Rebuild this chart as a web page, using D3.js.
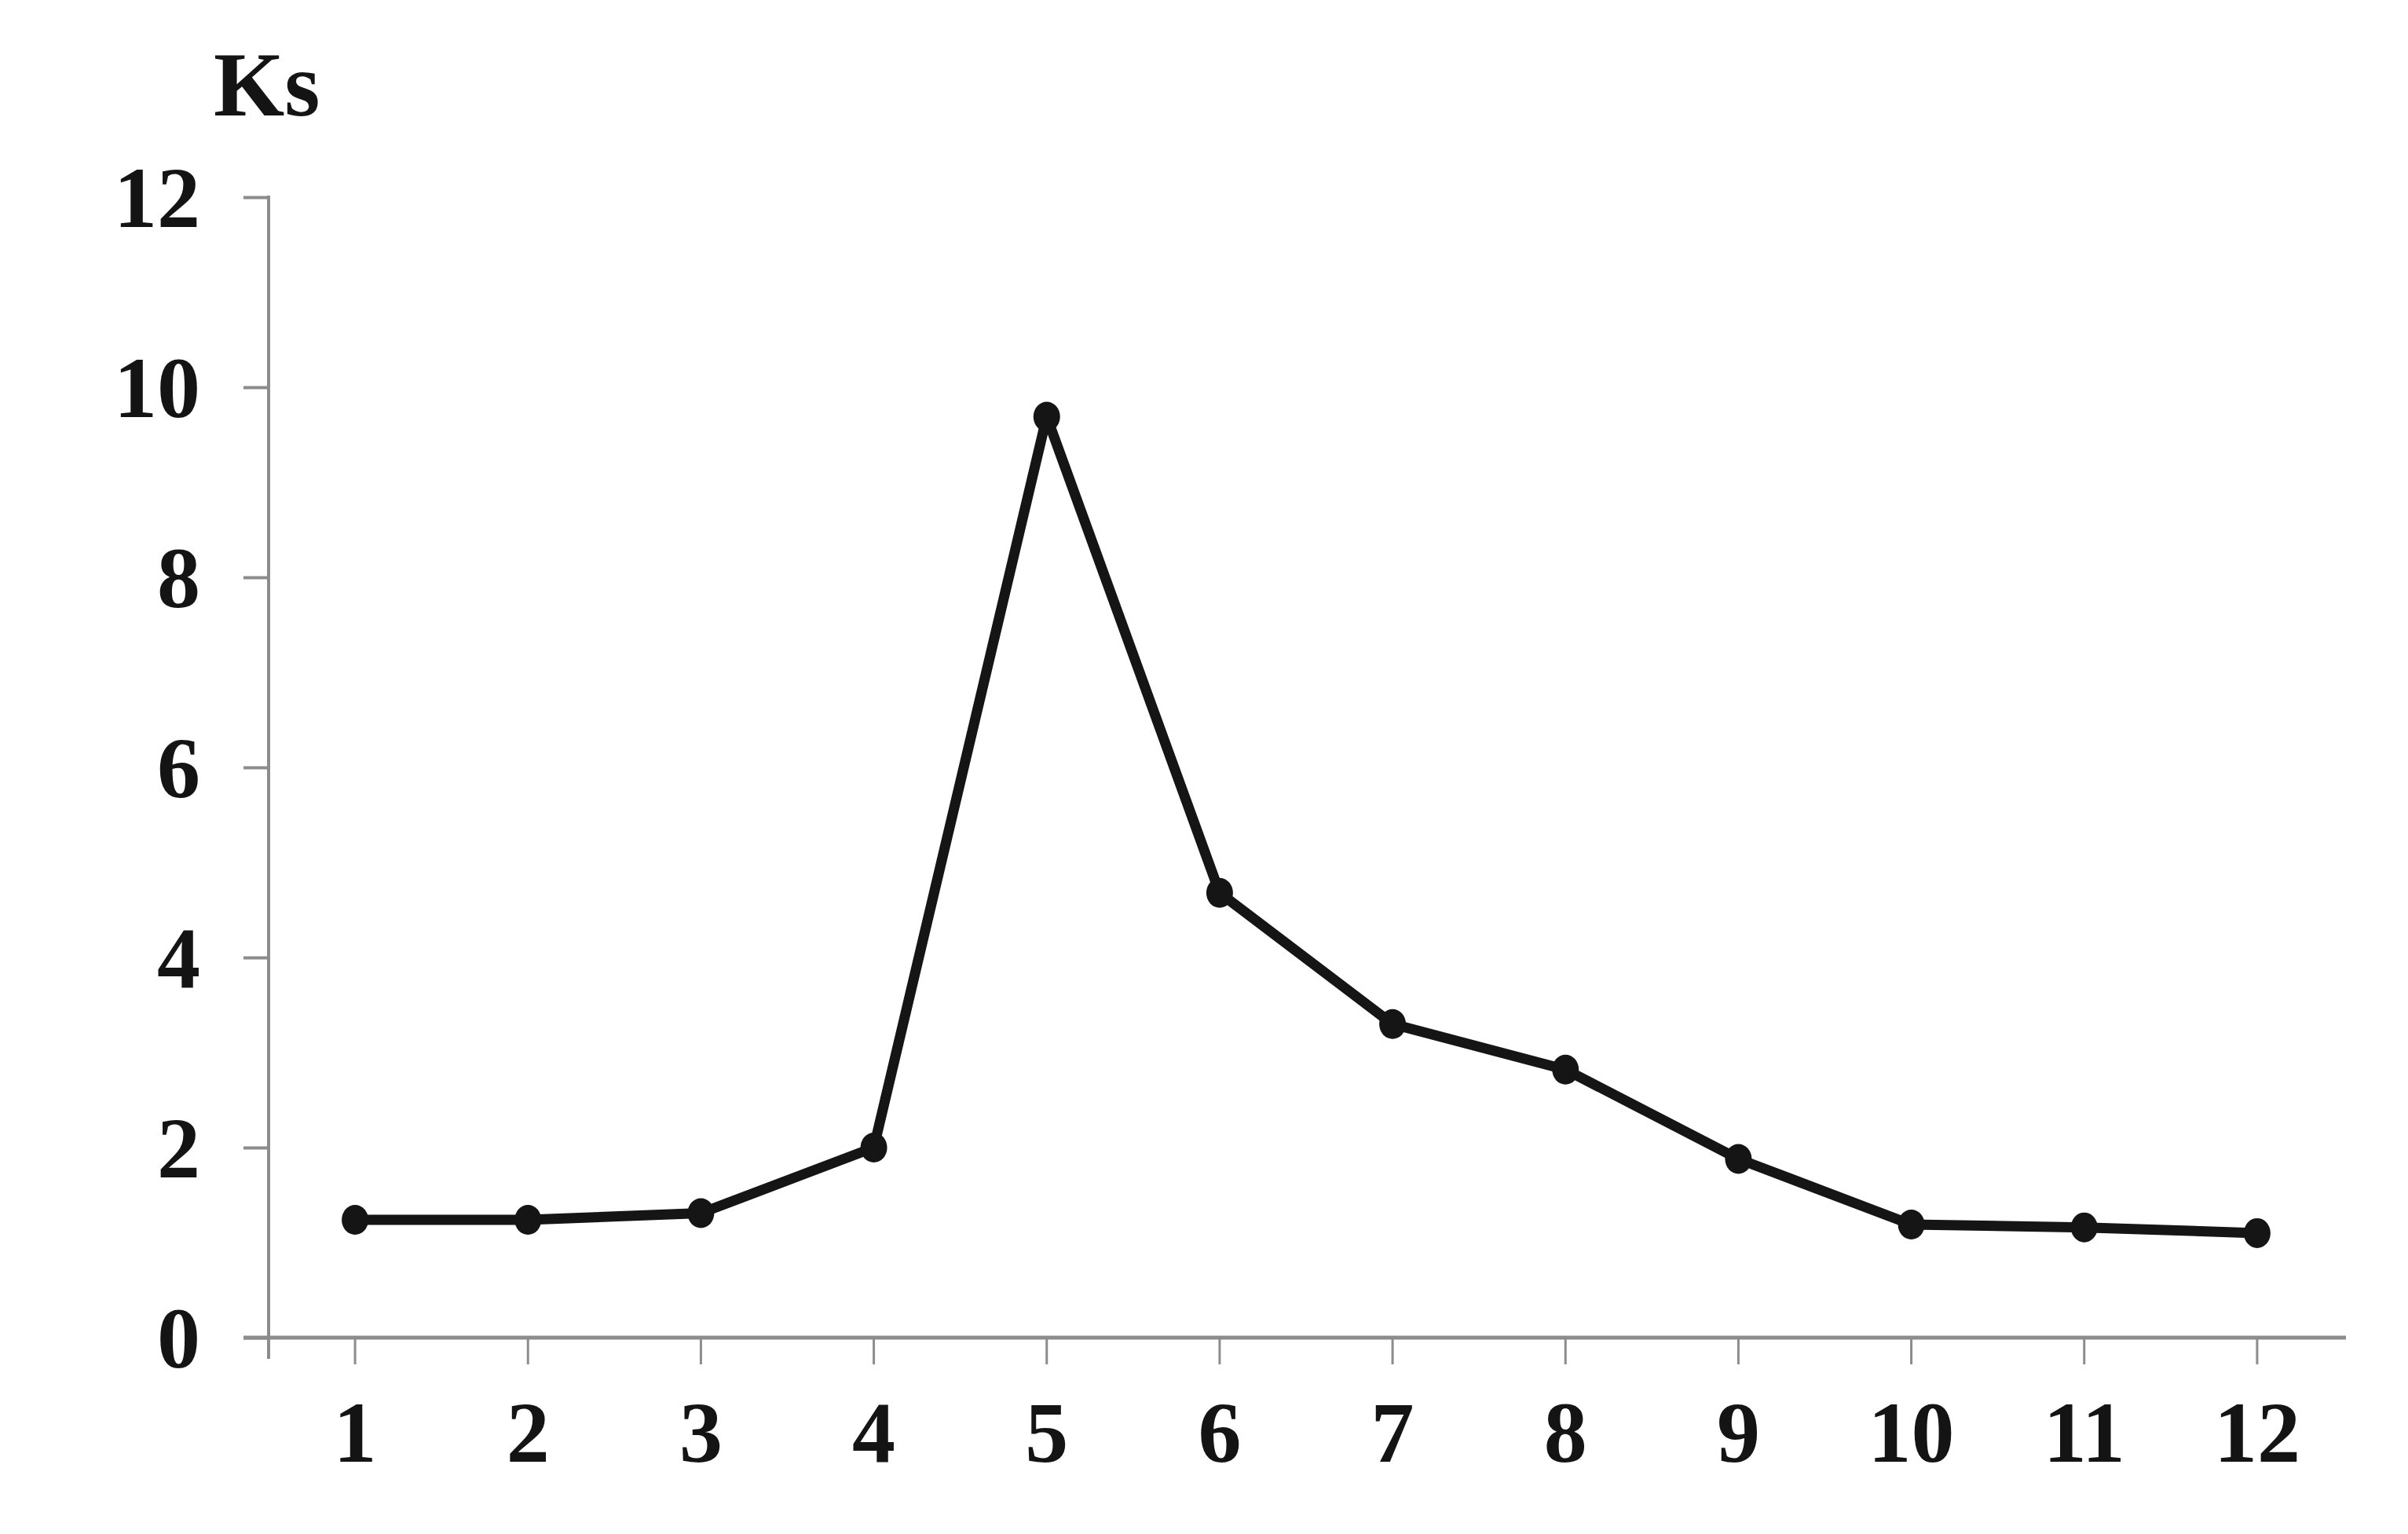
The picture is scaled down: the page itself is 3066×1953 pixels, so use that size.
<!DOCTYPE html>
<html>
<head>
<meta charset="utf-8">
<script src="https://cdn.jsdelivr.net/npm/d3@7"></script>
<style>
  html, body { margin: 0; padding: 0; background: #fff; }
  svg { display: block; }
  text { font-family: "Liberation Serif", "Times New Roman", Times, serif; font-weight: bold; fill: #141414; }
</style>
</head>
<body>
<script>
const categories = ["1","2","3","4","5","6","7","8","9","10","11","12"];
const ksValues = [1.24, 1.24, 1.31, 2.0, 9.69, 4.68, 3.30, 2.82, 1.88, 1.19, 1.16, 1.10];
const yTicks = [0, 2, 4, 6, 8, 10, 12];
const yLabel = "Ks";

(function () {
const W = 3066, H = 1953;
const mLeft = 342, mRight = 2984, mTop = 251, mBottom = 1703;
const fontSize = 110;
const axisColor = "#8c8c8c";

const svg = d3.select("body").append("svg").attr("width", W).attr("height", H);

const x = d3.scaleBand().domain(categories).range([mLeft, mRight]).padding(0);
const y = d3.scaleLinear().domain([0, 12]).range([mBottom, mTop]);

// Y axis
const yAxis = svg.append("g").attr("transform", `translate(${mLeft},0)`)
  .call(d3.axisLeft(y).tickValues(yTicks).tickSize(32).tickPadding(55).tickFormat(d3.format("d")));
yAxis.attr("font-family", null).attr("font-size", null);
yAxis.select(".domain").remove();
yAxis.selectAll(".tick line").attr("stroke", axisColor).attr("stroke-width", 4);
yAxis.selectAll(".tick text").attr("font-size", fontSize).attr("dy", "0.34em").attr("fill", "#141414");
svg.append("line").attr("x1", mLeft).attr("x2", mLeft).attr("y1", mTop - 2).attr("y2", mBottom + 27)
  .attr("stroke", axisColor).attr("stroke-width", 4);

// X axis
const xAxis = svg.append("g").attr("transform", `translate(0,${mBottom})`)
  .call(d3.axisBottom(x).tickSize(34).tickPadding(46));
xAxis.attr("font-family", null).attr("font-size", null);
xAxis.select(".domain").remove();
xAxis.selectAll(".tick line").attr("stroke", axisColor).attr("stroke-width", 3);
xAxis.selectAll(".tick text").attr("font-size", fontSize).attr("dy", "0.71em").attr("fill", "#141414");
svg.append("line").attr("x1", mLeft - 32).attr("x2", mRight + 3).attr("y1", mBottom).attr("y2", mBottom)
  .attr("stroke", axisColor).attr("stroke-width", 5);

// Y label
svg.append("text").attr("x", 272).attr("y", 147).attr("font-size", 116).text(yLabel);

// Line
const data = categories.map((c, i) => ({ c, v: ksValues[i] }));
const cx = d => x(d.c) + x.bandwidth() / 2;
const line = d3.line().x(cx).y(d => y(d.v));
svg.append("path").datum(data).attr("d", line)
  .attr("fill", "none").attr("stroke", "#151515").attr("stroke-width", 13).attr("stroke-linejoin", "round");

svg.selectAll("ellipse.pt").data(data).enter().append("ellipse")
  .attr("class", "pt")
  .attr("cx", cx)
  .attr("cy", d => y(d.v))
  .attr("rx", 17).attr("ry", 19)
  .attr("fill", "#151515");
})();
</script>
</body>
</html>
